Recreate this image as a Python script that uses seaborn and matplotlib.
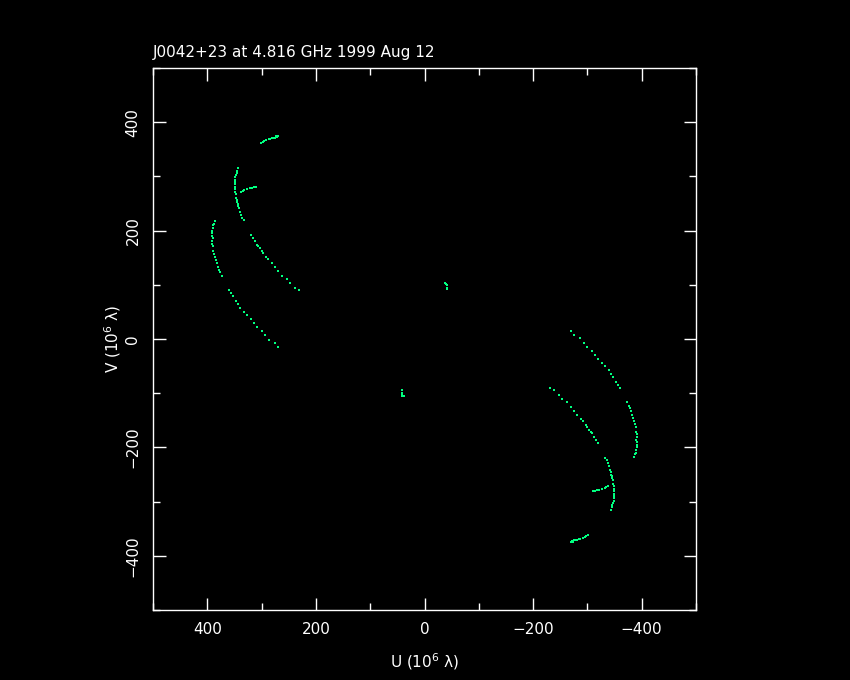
import matplotlib
matplotlib.use("Agg")
import matplotlib.pyplot as plt
import seaborn as sns
import pandas as pd
from matplotlib.ticker import MultipleLocator

sns.set_theme(style="dark")
plt.rcParams['font.family'] = ['DejaVu Sans']

title = "J0042+23 at 4.816 GHz 1999 Aug 12"
x_label = "U (10$^{6}$ λ)"
y_label = "V (10$^{6}$ λ)"
x_ticks = [400, 200, 0, -200, -400]
y_ticks = [-400, -200, 0, 200, 400]

# ---- upper-left tracks (10^6 lambda) ----
a_u = [302, 298, 295, 291, 287, 285, 281, 279, 276, 274, 271, 270]
a_v = [362, 364, 366, 367, 369, 369, 371, 370, 371, 374, 372, 374]

b_u = [344, 346, 346, 348, 349, 349, 349, 349, 349, 349, 349, 348, 347, 346, 345, 344, 343, 342, 339, 338, 336, 333]
b_v = [315, 310, 307, 302, 298, 294, 289, 286, 281, 277, 272, 267, 261, 256, 252, 250, 246, 242, 234, 229, 223, 219]

c_u = [338, 335, 332, 327, 322, 318, 314, 311]
c_v = [271, 273, 274, 276, 278, 279, 280, 281]

d_u = [386, 388, 389, 390, 391, 391, 391, 390, 391, 391, 389, 389, 387, 386, 384, 383, 381, 379, 376, 373]
d_v = [218, 213, 210, 204, 199, 195, 190, 186, 181, 176, 171, 162, 156, 151, 146, 140, 133, 128, 123, 117]

e_u = [319, 316, 313, 309, 307, 303, 300, 298, 292, 288, 281, 276, 269, 262, 254, 247, 239, 232]
e_v = [191, 187, 180, 174, 171, 167, 162, 159, 152, 147, 140, 132, 125, 117, 110, 103, 95, 90]

f_u = [360, 356, 352, 348, 343, 339, 332, 327, 320, 314, 308, 300, 293, 286, 276, 270]
f_v = [90, 84, 79, 71, 64, 58, 49, 44, 36, 29, 22, 14, 7, -1, -8, -14]

g_u = [-37, -40, -41, -41, -41]
g_v = [103, 101, 99, 95, 92]

# ---- lower-right tracks (conjugate points) ----
a2_u = [-302, -298, -295, -291, -287, -285, -281, -279, -276, -274, -271, -270]
a2_v = [-362, -364, -366, -367, -369, -369, -371, -370, -371, -374, -372, -374]

b2_u = [-344, -346, -346, -348, -349, -349, -349, -349, -349, -349, -349, -348, -347, -346, -345, -344, -343, -342, -339, -338, -336, -333]
b2_v = [-315, -310, -307, -302, -298, -294, -289, -286, -281, -277, -272, -267, -261, -256, -252, -250, -246, -242, -234, -229, -223, -219]

c2_u = [-338, -335, -332, -327, -322, -318, -314, -311]
c2_v = [-271, -273, -274, -276, -278, -279, -280, -281]

d2_u = [-386, -388, -389, -390, -391, -391, -391, -390, -391, -391, -389, -389, -387, -386, -384, -383, -381, -379, -376, -373]
d2_v = [-218, -213, -210, -204, -199, -195, -190, -186, -181, -176, -171, -162, -156, -151, -146, -140, -133, -128, -123, -117]

e2_u = [-319, -316, -313, -309, -307, -303, -300, -298, -292, -288, -281, -276, -269, -262, -254, -247, -239, -232]
e2_v = [-191, -187, -180, -174, -171, -167, -162, -159, -152, -147, -140, -132, -125, -117, -110, -103, -95, -90]

f2_u = [-360, -356, -352, -348, -343, -339, -332, -327, -320, -314, -308, -300, -293, -286, -276, -270]
f2_v = [-90, -84, -79, -71, -64, -58, -49, -44, -36, -29, -22, -14, -7, 1, 8, 14]

g2_u = [42, 42, 42, 41, 38]
g2_v = [-95, -99, -103, -105, -106]

tracks = [(a_u, a_v), (b_u, b_v), (c_u, c_v), (d_u, d_v), (e_u, e_v), (f_u, f_v), (g_u, g_v),
          (a2_u, a2_v), (b2_u, b2_v), (c2_u, c2_v), (d2_u, d2_v), (e2_u, e2_v), (f2_u, f2_v), (g2_u, g2_v)]
frames = [pd.DataFrame({"u": u, "v": v}) for u, v in tracks]
df = pd.concat(frames, ignore_index=True)

fig = plt.figure(figsize=(8.5, 6.8), dpi=100, facecolor="black")
ax = fig.add_axes([153 / 850, 1 - 610 / 680, (696 - 153) / 850, (610 - 68) / 680])
ax.set_facecolor("black")

sns.scatterplot(data=df, x="u", y="v", ax=ax, marker="s", s=2, color="#00ff80",
                linewidth=0, legend=False)

ax.set_xlim(500, -500)
ax.set_ylim(-500, 500)
ax.set_xticks(x_ticks)
ax.set_xticklabels([str(t).replace("-", "\u2212") for t in x_ticks])
ax.set_yticks(y_ticks)
ax.set_yticklabels([str(t).replace("-", "\u2212") for t in y_ticks], rotation=90, va="center")
ax.xaxis.set_minor_locator(MultipleLocator(100))
ax.yaxis.set_minor_locator(MultipleLocator(100))
ax.grid(False)

for sp in ax.spines.values():
    sp.set_color("white")
    sp.set_linewidth(1.0)
    sp.set_visible(True)

ax.tick_params(which="both", direction="in", top=True, right=True, bottom=True, left=True,
               colors="white", labelsize=11, width=1.0)
ax.tick_params(which="major", length=9, pad=9)
ax.tick_params(which="minor", length=5)

ax.set_xlabel(x_label, color="white", fontsize=11, labelpad=10)
ax.set_ylabel(y_label, color="white", fontsize=11, labelpad=2)
ax.set_title(title, color="white", fontsize=11, loc="left", pad=8)

fig.savefig("out.png", dpi=100, facecolor="black")
